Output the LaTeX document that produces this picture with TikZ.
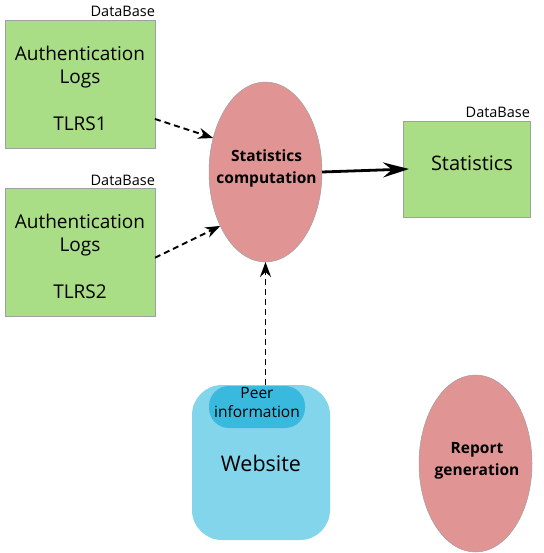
\documentclass[tikz,border=0pt]{standalone}
\usepackage{fontspec}
\setmainfont{Open Sans}
\usetikzlibrary{arrows.meta, shapes.geometric}
\definecolor{db-green}{HTML}{A9DD86}
\definecolor{proc-red}{HTML}{E09494}
\definecolor{web-blue}{HTML}{82D5EA}
\definecolor{peer-blue}{HTML}{3AB9DF}
\definecolor{edge-gray}{HTML}{A0A0A0}

\begin{document}
\begin{tikzpicture}[x=1pt, y=-1pt,
        every node/.style={inner sep=0pt, outer sep=0pt},
        dbbox/.style={draw=edge-gray, line width=0.5pt, fill=db-green,
            minimum width=150pt, minimum height=128pt},
        dbtext/.style={align=center, font=\fontsize{19}{23}\selectfont},
        dblabel/.style={anchor=south east, font=\fontsize{14.5}{16}\selectfont},
        process/.style={ellipse, draw=edge-gray, line width=0.5pt, fill=proc-red,
            minimum width=113pt, minimum height=180pt},
        proctext/.style={align=center, font=\bfseries\fontsize{15.5}{22}\selectfont},
        feed/.style={-{Stealth[length=15pt, width=11pt, inset=5pt]}, line width=1.9pt,
            dash pattern=on 6pt off 4pt}]
      \useasboundingbox (0,0) rectangle (543,553);
      % databases
      \node[dbbox] (tlrs1) at (80,84) {};
      \node[dbtext] (tlrs1text) at (80,88) {Authentication\\Logs\\[24pt]TLRS1};
      \node[dblabel] (db1) at (tlrs1.north east) [yshift=3pt] {DataBase};
      \node[dbbox] (tlrs2) at (80,252.5) {};
      \node[dbtext] (tlrs2text) at (80,256.5) {Authentication\\Logs\\[24pt]TLRS2};
      \node[dblabel] (db2) at (tlrs2.north east) [yshift=3pt] {DataBase};
      \node[dbbox, minimum width=127pt, minimum height=96pt] (stats) at (466.5,169) {};
      \node[font=\fontsize{20}{24}\selectfont] (statstext) at (472,163) {Statistics};
      \node[dblabel] (db3) at (stats.north east) [yshift=3pt] {DataBase};
      % processes
      \node[process] (comp) at (265.5,172) {};
      \node[proctext] (comptext) at (266.5,168) {Statistics\\computation};
      \node[process, minimum height=177pt] (report) at (475.5,463.5) {};
      \node[proctext] (reporttext) at (477,461) {Report\\generation};
      % website
      \node[fill=web-blue, rounded corners=30pt,
            minimum width=138pt, minimum height=155pt] (web) at (261,462.5) {};
      \node[font=\fontsize{21.5}{24}\selectfont] (webtext) at (261,463) {Website};
      \node[fill=peer-blue, rounded corners=20pt, minimum width=96pt, minimum height=42pt] (peer) at (257,407) {};
      \node[align=center, font=\fontsize{15.5}{19}\selectfont] (peertext) at (257,403) {Peer\\information};
      % flows
      \draw[feed] (tlrs1.-25.6) -- (comp.147);
      \draw[feed] (tlrs2.-4) -- (comp.230);
      \draw[feed] (web.north -| comp.south) -- (comp.south);
      \draw[-{Stealth[length=26pt, width=15pt, inset=9pt]}, line width=2.8pt]
        (comp.east) -- ([xshift=6pt]stats.west);
    \end{tikzpicture}
\end{document}
